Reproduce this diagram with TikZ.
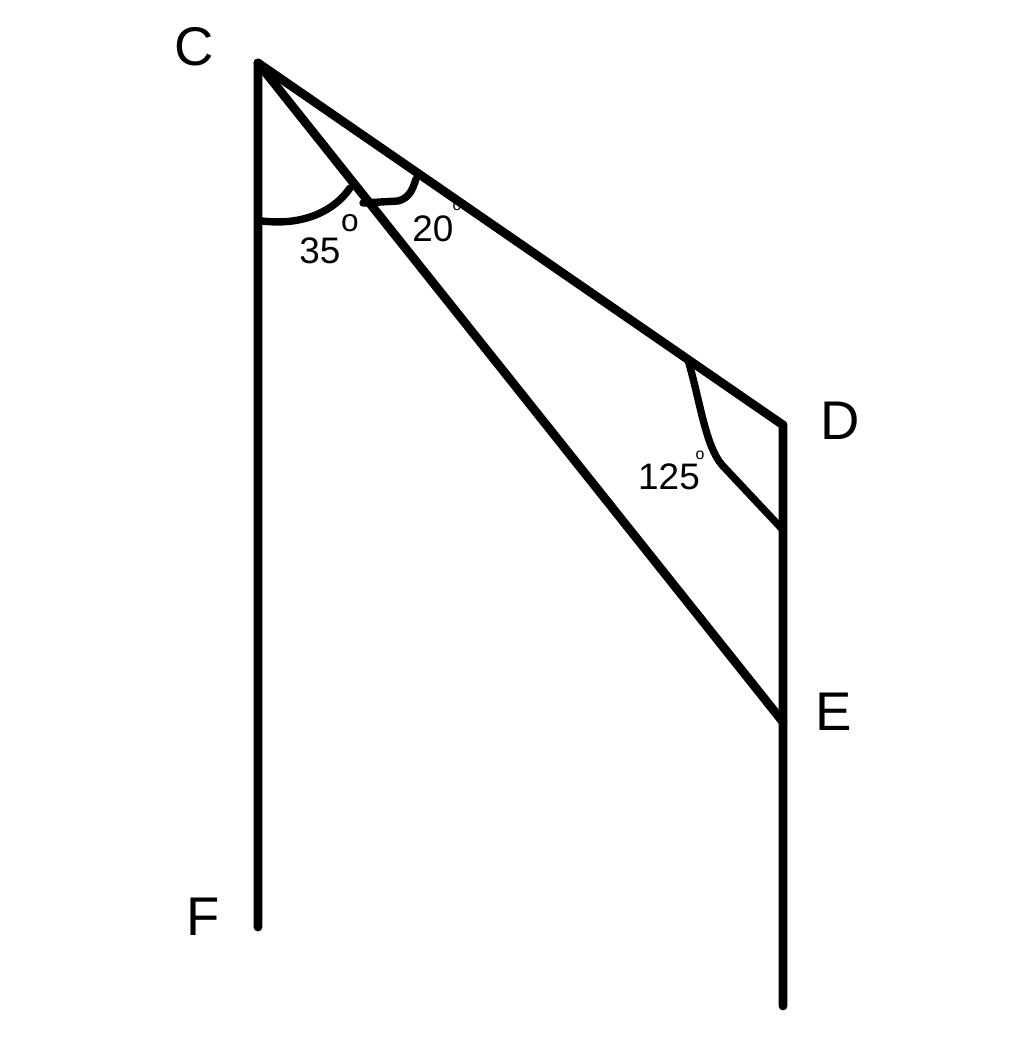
\documentclass[tikz,border=0pt]{standalone}
\usepackage{fontspec}
\setmainfont{Liberation Sans}
\usetikzlibrary{calc}
\usetikzlibrary{positioning}

\tikzset{
  seg/.style={line width=5pt, line cap=round, line join=round},
  anglearc/.style={line width=4.2pt, line cap=round, line join=round},
  pointlabel/.style={font=\fontsize{31}{31}\selectfont, inner sep=0pt},
  anglelabel/.style={font=\fontsize{21}{21}\selectfont, inner sep=0pt},
  degbig/.style={font=\fontsize{18}{18}\selectfont, inner sep=0pt},
  degsmall/.style={font=\fontsize{9}{9}\selectfont, inner sep=0pt}
}

\begin{document}
\begin{tikzpicture}[x=0.02cm, y=-0.02cm]
  \useasboundingbox (0,0) rectangle (1024,1061);

  \coordinate (C) at (258,63);
  \coordinate (D) at (783,425);
  \coordinate (E) at (783,722);
  \coordinate (F) at (258,927);
  \coordinate (G) at (783,1006);

  % the four sides
  \draw [seg] (F) -- (C) -- (D) -- (G);
  \draw [seg] (C) -- (E);

  % angle marks
  \draw [anglearc] (262,221) .. controls (305,226) and (335,210) .. (350,188);
  \draw [anglearc] (363,203) -- (398,201) .. controls (410,198) and (413,188) .. (416,179);
  \draw [anglearc] (688,360) .. controls (700,400) and (705,445) .. (722,465) -- (783,530);

  % point names
  \node [pointlabel] (labC) at (194,47) {C};
  \node [pointlabel] (labD) at (840,421) {D};
  \node [pointlabel] (labE) at (834,712) {E};
  \node [pointlabel] (labF) at (203,917) {F};

  % angle values
  \node [anglelabel] (a35) at (320,251) {35};
  \node [degbig] (d35) at (350,223) {o};
  \node [anglelabel] (a20) at (433,229) {20};
  \node [degsmall] (d20) at (457,206) {o};
  \node [anglelabel] (a125) at (669,477) {125};
  \node [degsmall] (d125) at (700,455) {o};
\end{tikzpicture}
\end{document}
